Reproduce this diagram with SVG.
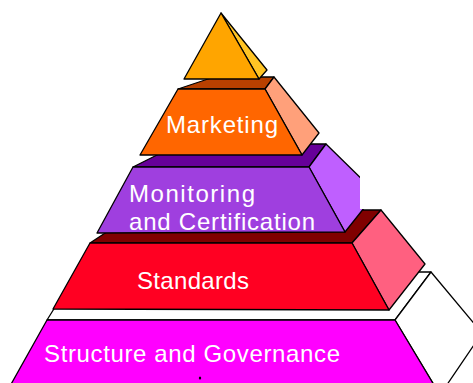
<svg xmlns="http://www.w3.org/2000/svg" width="473" height="383" viewBox="0 0 473 383">
  <style>
    .edge { stroke: #000; stroke-width: 1.3; stroke-linejoin: round; }
    .label { font-family: "Liberation Sans", Arial, sans-serif; font-size: 24px; fill: #fff; }
  </style>
  <rect width="473" height="383" fill="#fff"/>

  <!-- Level 1: Structure and Governance -->
  <g id="structure">
    <polygon class="edge" points="47,320 395,320 431,272 77,272" fill="#fff"/>
    <polygon class="edge" points="395,320 431,272 482,333 440,395" fill="#fff"/>
    <polygon class="edge" points="47,320 395,320 440,395 5,395" fill="#FF00FF"/>
    <text class="label" x="44" y="362" textLength="296" lengthAdjust="spacing">Structure and Governance</text>
    <ellipse cx="200" cy="378" rx="1.2" ry="1.5" fill="#000"/>
  </g>

  <!-- Level 2: Standards -->
  <g id="standards">
    <polygon class="edge" points="90,243 352,243 381,210 140,210" fill="#800000"/>
    <polygon class="edge" points="352,243 381,210 425,264 389,310" fill="#FF6080"/>
    <polygon class="edge" points="90,243 352,243 389,310 53,309" fill="#FF0022"/>
    <text class="label" x="137" y="289" textLength="112" lengthAdjust="spacing">Standards</text>
  </g>

  <!-- Level 3: Monitoring and Certification -->
  <g id="monitoring">
    <polygon class="edge" points="133,167 309,167 326,144 179,144" fill="#660099"/>
    <polygon class="edge" points="309,167 326,144 376,193 345,232" fill="#BF5FFF"/>
    <polygon class="edge" points="133,167 309,167 345,232 97,233" fill="#9F3FDF"/>
    <text class="label" x="129" y="202" textLength="126" lengthAdjust="spacing">Monitoring</text>
    <text class="label" x="129" y="230" textLength="186" lengthAdjust="spacing">and Certification</text>
    <!-- blank panel trimming the side face -->
    <rect x="360" y="138" width="113" height="71" fill="#fff"/>
  </g>

  <!-- Level 4: Marketing -->
  <g id="marketing">
    <polygon class="edge" points="178,89 265,89 274,77 214,77" fill="#B84000"/>
    <polygon class="edge" points="265,89 274,77 319,133 302,155" fill="#FFA07A"/>
    <polygon class="edge" points="178,89 265,89 302,155 140,155" fill="#FF6600"/>
    <text class="label" x="166" y="133" textLength="112" lengthAdjust="spacing">Marketing</text>
  </g>

  <!-- Apex -->
  <g id="apex">
    <polygon class="edge" points="221,13 267,70 259,79" fill="#FFC425"/>
    <polygon class="edge" points="221,13 259,79 184,79" fill="#FFA500"/>
  </g>
</svg>
